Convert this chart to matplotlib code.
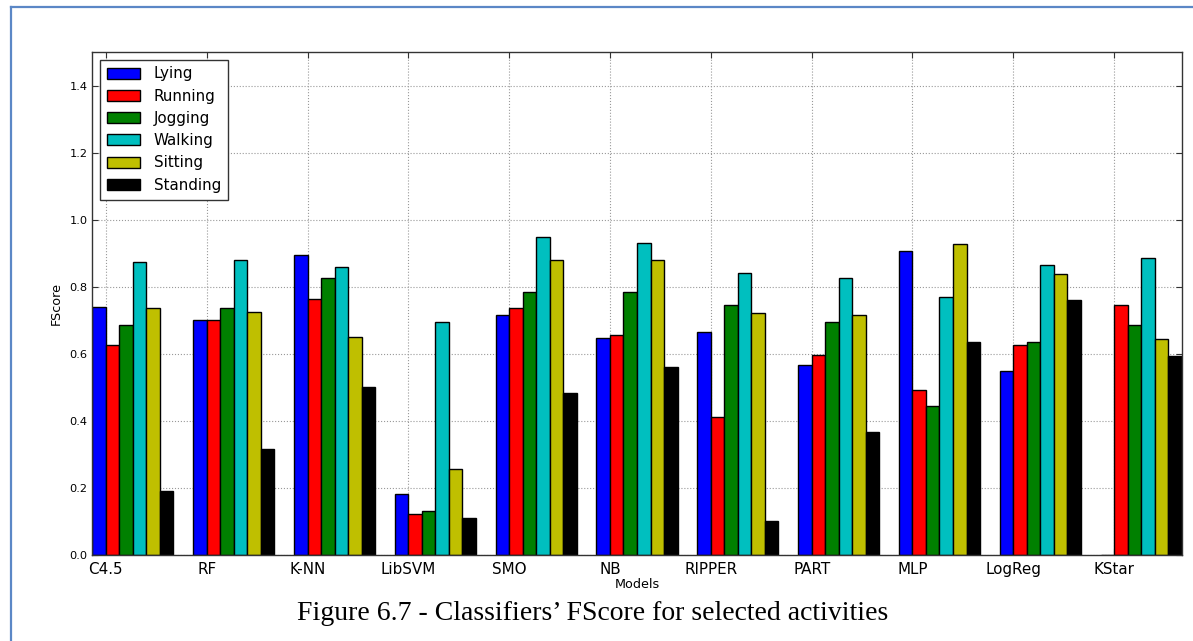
#!/usr/bin/env python3
# -*- coding: utf-8 -*-

"""
Grouped bar chart of classifier FScore for the selected activities,
drawn in the old matplotlib look with the report caption underneath.
"""

import numpy as np
from matplotlib import pyplot as plt
from matplotlib.lines import Line2D

models = ["C4.5", "RF", "K-NN", "LibSVM", "SMO", "NB", "RIPPER", "PART",
          "MLP", "LogReg", "KStar"]
activities = ["Lying", "Running", "Jogging", "Walking", "Sitting", "Standing"]

lying = [0.740, 0.701, 0.896, 0.183, 0.717, 0.647, 0.664, 0.568, 0.907, 0.548, 0.0]
running = [0.626, 0.701, 0.763, 0.121, 0.737, 0.657, 0.411, 0.596, 0.492, 0.627, 0.745]
jogging = [0.685, 0.736, 0.826, 0.130, 0.785, 0.785, 0.745, 0.694, 0.444, 0.635, 0.687]
walking = [0.873, 0.880, 0.859, 0.696, 0.949, 0.930, 0.841, 0.825, 0.768, 0.864, 0.885]
sitting = [0.738, 0.724, 0.651, 0.255, 0.880, 0.880, 0.721, 0.717, 0.928, 0.837, 0.644]
standing = [0.190, 0.317, 0.500, 0.110, 0.483, 0.560, 0.101, 0.367, 0.635, 0.760, 0.594]

colours = ["#0000ff", "#ff0000", "#008000", "#00bfbf", "#bfbf00", "#000000"]

plt.rcParams["font.family"] = "DejaVu Sans"

fig = plt.figure(figsize=(11.93, 6.41), dpi=100)
ax = fig.add_axes([0.0774, 0.1342, 0.9131, 0.7847])

ind = np.arange(len(models))
width = 0.134
series = [lying, running, jogging, walking, sitting, standing]
for i, (vals, c, name) in enumerate(zip(series, colours, activities)):
    ax.bar(ind + i * width, vals, width, align="edge", color=c,
           edgecolor="black", linewidth=1.0, label=name, zorder=2)

ax.set_xlim(0, ind[-1] + 6 * width)
ax.set_ylim(0, 1.5)
ax.set_xticks(ind + width)
ax.set_xticklabels(models, fontsize=10.9)
ax.set_yticks(np.arange(0, 1.41, 0.2))
ax.set_yticklabels(["{:.1f}".format(v) for v in np.arange(0, 1.41, 0.2)], fontsize=8.2)
ax.tick_params(direction="in", top=True, right=True, length=4, width=0.8, color="#333333")
ax.tick_params(axis="x", pad=5)
ax.grid(True, color="#999999", linestyle=":", linewidth=0.8, zorder=0)
ax.set_axisbelow(True)
for sp in ax.spines.values():
    sp.set_color("#333333")
    sp.set_linewidth(1.0)

ax.set_xlabel("Models", fontsize=9.2, labelpad=1)
ax.set_ylabel("FScore", fontsize=9.2, labelpad=5)

leg = ax.legend(loc="upper left", fontsize=10.9, handlelength=2.2, handleheight=0.75,
                labelspacing=0.48, borderpad=0.45, handletextpad=0.9,
                fancybox=False, framealpha=1.0)
leg.get_frame().set_edgecolor("#333333")
leg.get_frame().set_linewidth(1.0)

# document caption and the frame around the figure
fig.text(0.497, 0.043, "Figure 6.7 - Classifiers\u2019 FScore for selected activities",
         ha="center", va="center", fontsize=20, family="Liberation Serif")
border = "#5b87c6"
fig.add_artist(Line2D([11 / 1193, 1.0], [1 - 7 / 641, 1 - 7 / 641],
                      transform=fig.transFigure, color=border, linewidth=1.6))
fig.add_artist(Line2D([11 / 1193, 11 / 1193], [0.0, 1 - 7 / 641],
                      transform=fig.transFigure, color=border, linewidth=1.6))

fig.savefig("out.png", dpi=100)
